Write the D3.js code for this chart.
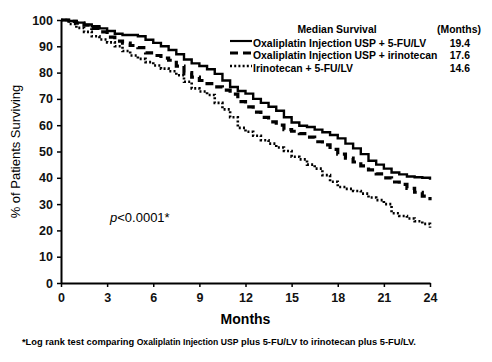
<!DOCTYPE html>
<html>
<head>
<meta charset="utf-8">
<script src="https://cdn.jsdelivr.net/npm/d3@7"></script>
<style>
  body { margin: 0; background: #fff; }
  svg { font-family: "Liberation Sans", Arial, sans-serif; }
</style>
</head>
<body>
<div class="chart"></div>
<script>
// Data (half-month steps)
const months = d3.range(0, 24.01, 0.5);
const oxaFu = [100,99.6,99,98.3,97.6,96.8,95.8,94.8,94.3,94.3,93.8,92.5,91.3,90,88.6,87,85,83.5,82.5,81.3,79.5,77,74.5,73,72,70,68.5,67,65.5,63,61,59.8,59.3,58.3,57.3,56.3,55,53,51.2,49,46.5,45,43.5,42,41.3,40.5,40.2,40,39.3];
const oxaIri = [100,99.5,98.8,98,96.8,95.5,93.5,92,91.2,90.3,89.5,87.5,86.5,85.5,84.7,82.5,80,78.3,77,75.8,74.6,73.3,71.8,69,67,65,63,61.3,60,58.3,57.7,56.8,55.5,53.7,52.5,50.8,49,47.5,46,44.5,43,41.5,40,38.4,37.5,36,34.5,33,31.5];
const iriFu = [100,98.5,97,95.5,93.8,92.6,91.5,90,88.2,86.5,85.2,84,82.7,81.5,80.5,79,76.5,74,72.8,71.5,68.5,66,63,59,57.5,56,54.3,53,51.5,50.2,48,47,45,43.5,41,38.5,36.5,35.8,35,34,32.5,31.5,30,26.5,25.5,24.5,23.5,22.5,21];
const seriesNames = ['Oxaliplatin Injection USP + 5-FU/LV', 'Oxaliplatin Injection USP + irinotecan', 'Irinotecan + 5-FU/LV'];
const medians = ['19.4', '17.6', '14.6'];
const xTicks = [0,3,6,9,12,15,18,21,24];
const yTicks = [0,10,20,30,40,50,60,70,80,90,100];

const series = [
  {name: seriesNames[0], values: oxaFu, dash: null, width: 2.4},
  {name: seriesNames[1], values: oxaIri, dash: '8,5', width: 3.2},
  {name: seriesNames[2], values: iriFu, dash: '2,2.2', width: 2.6}
];

const W = 492, H = 362;
const margin = {top: 20, right: 62, bottom: 79, left: 61};
const cw = W - margin.left - margin.right;
const ch = H - margin.top - margin.bottom;

const svg = d3.select('.chart').append('svg').attr('width', W).attr('height', H);
const g = svg.append('g').attr('transform', `translate(${margin.left},${margin.top})`);

const x = d3.scaleLinear().domain([0, 24]).range([0, cw]);
const y = d3.scaleLinear().domain([0, 100]).range([ch, 0]);

// curves
const lineGen = d3.line()
  .x((d, i) => x(months[i]))
  .y(d => y(d))
  .curve(d3.curveStepAfter);

g.selectAll('.km').data(series).enter()
  .append('path')
  .attr('class', 'km')
  .attr('d', d => lineGen(d.values))
  .style('fill', 'none')
  .style('stroke', '#000')
  .style('stroke-width', d => d.width)
  .style('stroke-dasharray', d => d.dash);

// axes
const xAxis = d3.axisBottom(x).tickValues(xTicks).tickSizeInner(4).tickSizeOuter(0).tickPadding(6);
const yAxis = d3.axisLeft(y).tickValues(yTicks).tickSizeInner(4).tickSizeOuter(0).tickPadding(4);

const xg = g.append('g').attr('transform', `translate(0,${ch})`).call(xAxis);
const yg = g.append('g').call(yAxis);
[xg, yg].forEach(a => {
  a.select('.domain').style('stroke', '#000').style('stroke-width', 2);
  a.selectAll('.tick line').style('stroke', '#000').style('stroke-width', 1.5);
  a.selectAll('.tick text').style('font-size', '12.5px').style('font-weight', 'bold')
    .style('font-family', '"Liberation Sans", Arial, sans-serif').style('fill', '#111');
});

// axis titles
svg.append('text')
  .attr('transform', `translate(20,${margin.top + ch / 2}) rotate(-90)`)
  .attr('text-anchor', 'middle')
  .style('font-size', '13px')
  .text('% of Patients Surviving');

svg.append('text')
  .attr('x', margin.left + cw / 2).attr('y', 324)
  .attr('text-anchor', 'middle')
  .style('font-size', '14px').style('font-weight', 'bold')
  .text('Months');

// p value
const pTxt = svg.append('text').attr('x', 110).attr('y', 222).style('font-size', '13px');
pTxt.append('tspan').style('font-style', 'italic').text('p');
pTxt.append('tspan').text('<0.0001*');

// legend
const leg = svg.append('g').style('font-size', '10.4px').style('font-weight', 'bold');
leg.append('text').attr('x', 337).attr('y', 33).attr('text-anchor', 'middle').text('Median Survival');
leg.append('text').attr('x', 459).attr('y', 33).attr('text-anchor', 'middle').text('(Months)');
const rowY = [43, 55, 68];
series.forEach((s, i) => {
  leg.append('line')
    .attr('x1', 230).attr('x2', 252).attr('y1', rowY[i] - 2).attr('y2', rowY[i] - 2)
    .style('stroke', '#000').style('stroke-width', s.width * 0.9)
    .style('stroke-dasharray', s.dash);
  leg.append('text').attr('x', 253).attr('y', rowY[i] + 3.5).text(s.name);
  leg.append('text').attr('x', 470).attr('y', rowY[i] + 3.5).attr('text-anchor', 'end').text(medians[i]);
});

// footnote
const foot = svg.append('text').attr('x', 22).attr('y', 345)
  .style('font-size', '9.3px').style('font-weight', 'bold');
foot.append('tspan').text('*Log rank test comparing ');
foot.append('tspan').style('font-size', '8.6px').text('Oxaliplatin Injection USP');
foot.append('tspan').text(' plus 5-FU/LV to irinotecan plus 5-FU/LV.');
</script>
</body>
</html>
